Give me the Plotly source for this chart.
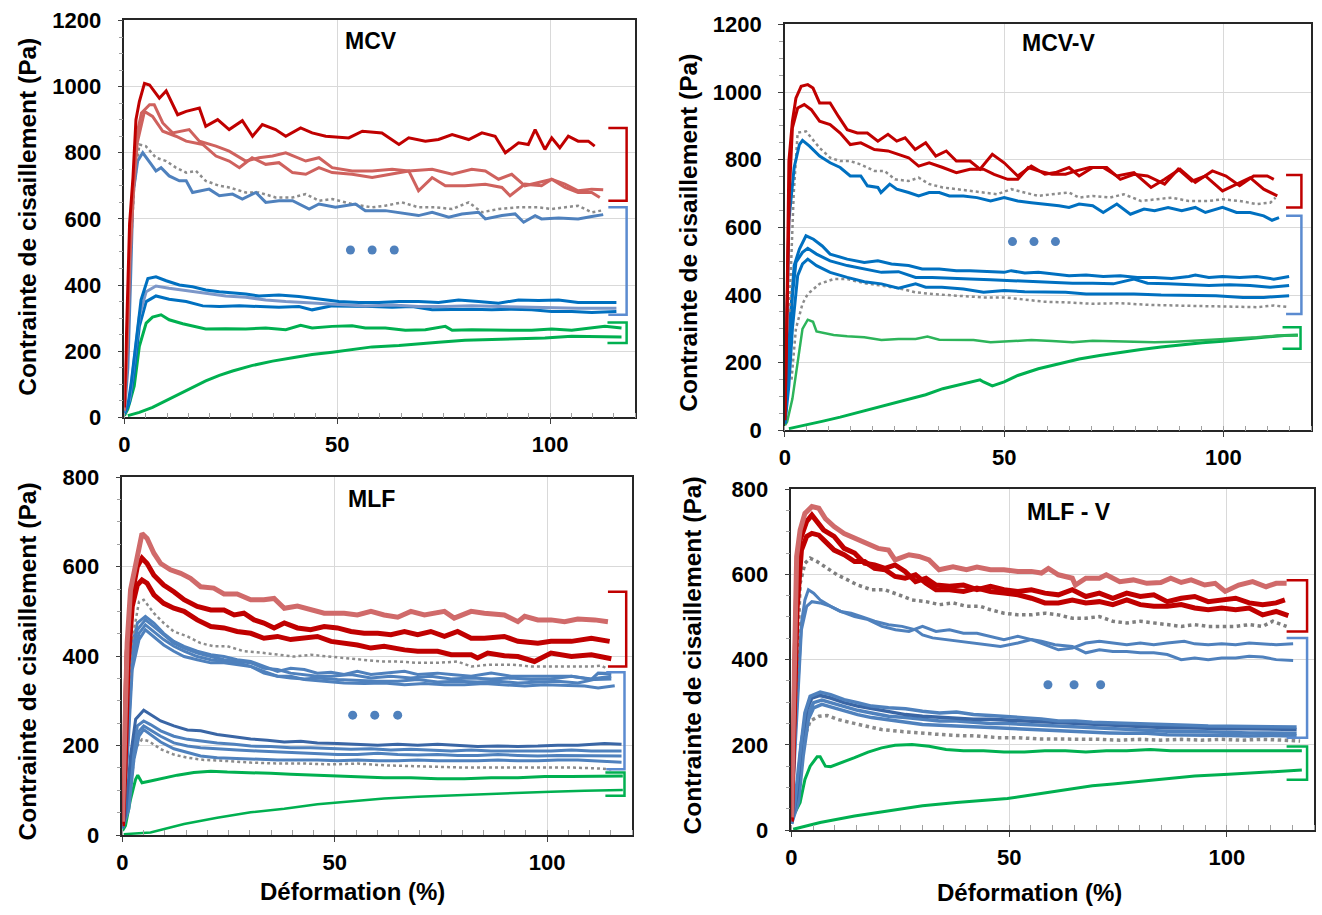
import plotly.graph_objects as go

W, H = 1322, 915

# ---------------- MCV (top-left) ----------------
MCV_RED = [(0,30),(0.5,250),(1.2,585),(2.0,725),(2.7,900),(3.5,955),(4.7,1010),(5.9,1005),(8.2,965),(9.8,987),(12.5,915),(14.5,925),(17.6,935),(19.1,880),(21.9,900),(24.6,870),(27.7,897),(30.1,850),(32.4,885),(35.5,870),(37.9,850),(41.4,875),(44.1,860),(47.3,850),(52.7,845),(55.9,865),(60.5,860),(64.5,825),(66.8,845),(70.7,835),(73.8,840),(77.0,855),(80.9,840),(84.0,860),(87.1,850),(89.5,800),(92.6,830),(94.9,825),(96.5,870),(98.8,810),(100.4,845),(102.3,815),(104.3,850),(106.6,835),(109.0,835),(110.5,820)]
MCV_LR_A = [(0,25),(0.6,220),(1.3,520),(2.2,740),(3.0,860),(4.0,920),(5.9,945),(7.0,945),(9.0,890),(11.3,860),(15.2,870),(17.6,835),(21.5,820),(24.6,805),(28.5,775),(31.6,785),(34.8,790),(37.9,800),(42.6,775),(45.7,785),(48.8,755),(53.5,745),(58.2,745),(62.9,750),(66.8,745),(72.3,750),(77.0,735),(81.6,750),(84.8,745),(87.9,720),(91.0,735),(94.1,700),(97.3,710),(100.4,720),(103.5,705),(106.6,685),(109.8,690),(112.5,688)]
MCV_LR_B = [(0,20),(0.6,200),(1.3,480),(2.2,700),(3.0,830),(4.7,925),(6.6,910),(9.0,865),(12.1,850),(14.5,835),(18.4,825),(21.5,790),(24.6,775),(27.0,755),(30.0,785),(33.2,765),(36.3,770),(39.5,740),(42.6,735),(45.7,755),(48.8,740),(53.5,735),(58.2,725),(62.9,735),(66.8,745),(69.1,685),(72.3,725),(75.4,700),(80.0,700),(84.8,705),(88.7,695),(90.6,670),(94.1,705),(98.0,700),(100.4,720),(103.5,695),(106.6,680),(109.8,680),(111.7,665)]
MCV_GREY = [(0.8,300),(1.5,520),(2.3,700),(3.5,825),(5.0,820),(7.4,785),(9.8,775),(12.1,755),(14.5,740),(16.8,745),(19.1,715),(22.3,700),(24.6,695),(28.5,680),(31.6,680),(35.5,665),(39.5,665),(42.6,675),(45.7,655),(48.8,660),(53.5,645),(58.2,635),(61.3,640),(65.2,650),(69.1,635),(73.0,635),(77.0,630),(80.9,650),(84.0,620),(87.9,630),(92.6,635),(97.3,635),(100.4,630),(104.3,635),(106.6,640),(109.8,620),(112.0,625)]
MCV_BLUE_UP = [(0,15),(0.8,150),(1.4,400),(2.0,675),(3.1,775),(4.3,800),(6.3,765),(7.4,745),(8.6,755),(10.5,730),(12.9,715),(14.5,715),(16.0,680),(18.4,685),(19.9,690),(22.3,670),(25.4,675),(27.7,660),(30.9,680),(33.2,650),(36.3,655),(39.5,655),(43.4,630),(45.7,645),(49.6,635),(54.3,645),(56.6,625),(61.3,625),(66.0,615),(69.1,610),(72.3,620),(76.2,605),(79.3,615),(83.2,620),(84.8,600),(88.7,610),(91.8,615),(93.8,590),(96.5,610),(98.0,600),(102.0,603),(106.6,600),(109.8,607),(112.5,613)]
MCV_B1 = [(0,10),(0.8,35),(1.6,105),(2.7,225),(3.9,355),(5.5,420),(7.4,425),(9.8,413),(12.9,400),(16.0,395),(19.1,385),(22.3,380),(25.4,377),(28.5,373),(31.6,367),(36.3,370),(41.0,365),(45.7,357),(50.4,350),(55.1,347),(59.8,347),(64.5,350),(69.1,350),(73.8,347),(78.5,355),(83.2,350),(87.9,345),(92.6,355),(97.3,353),(102.0,355),(106.6,347),(111.3,347),(115.6,347)]
MCV_B2 = [(0,10),(1.2,55),(2.3,175),(3.5,305),(5.1,380),(7.4,397),(10.5,390),(14.5,383),(19.1,375),(23.8,367),(28.5,363),(33.2,355),(37.9,350),(44.1,345),(50.4,340),(56.6,337),(62.9,340),(69.1,335),(75.4,335),(81.6,337),(87.9,335),(94.1,333),(100.4,330),(106.6,330),(115.6,330)]
MCV_B3 = [(0,10),(1.2,45),(2.3,135),(3.5,275),(5.1,350),(7.4,367),(10.5,357),(14.5,350),(18.4,337),(22.3,335),(27.0,337),(31.6,335),(36.3,333),(41.0,335),(44.1,325),(48.8,337),(53.5,337),(58.2,335),(62.9,333),(67.6,335),(72.3,325),(77.0,327),(81.6,327),(86.3,325),(91.0,327),(95.7,325),(100.4,320),(105.1,320),(109.8,317),(115.6,320)]
MCV_G1 = [(0,5),(0.8,25),(2.3,95),(3.5,215),(5.1,285),(6.6,303),(8.6,310),(10.5,295),(13.7,283),(16.8,275),(19.1,267),(23.8,268),(28.5,267),(33.2,270),(37.9,265),(41.4,278),(44.1,270),(48.8,275),(53.5,277),(56.6,270),(61.3,270),(66.0,263),(70.7,265),(75.4,275),(77.0,263),(81.6,265),(86.3,263),(91.0,263),(95.7,263),(100.4,267),(105.1,263),(109.8,270),(112.9,275),(116.8,270)]
MCV_G2 = [(0.8,5),(3.5,15),(6.6,30),(9.8,50),(12.9,70),(16.0,90),(19.1,110),(22.3,127),(25.4,140),(30.1,157),(34.8,170),(39.5,180),(44.1,190),(48.8,197),(53.5,205),(58.2,213),(64.5,217),(69.1,223),(73.8,227),(80.0,233),(86.3,235),(92.6,237),(98.8,240),(105.1,245),(111.3,243),(116.8,243)]

# ---------------- MCV-V (top-right) ----------------
MCVV_R1 = [(0,40),(0.4,300),(0.9,796),(1.7,914),(2.5,982),(3.7,1017),(5.2,1022),(6.4,1012),(7.9,968),(10.3,968),(12.2,928),(14.2,889),(16.5,879),(18.8,879),(21.2,855),(23.5,875),(25.5,855),(27.4,865),(29.7,830),(32.1,850),(34.4,811),(36.8,826),(39.1,796),(42.2,796),(44.5,772),(47.3,816),(50.0,791),(53.1,752),(56.2,781),(59.3,757),(61.7,762),(64.8,777),(67.1,752),(70.2,777),(73.4,777),(76.5,742),(79.6,757),(82.7,752),(86.6,728),(89.7,772),(92.8,737),(95.9,752),(99.8,708),(103.0,728),(106.1,747),(109.2,713),(112.3,693)]
MCVV_R2 = [(0,30),(0.5,350),(1.0,700),(1.7,894),(2.9,953),(4.4,963),(6.0,948),(7.9,914),(10.3,904),(12.6,879),(14.9,845),(17.3,850),(20.4,830),(23.5,826),(25.9,816),(28.2,806),(30.5,781),(32.9,791),(36.0,777),(39.1,762),(42.2,772),(45.3,772),(47.7,757),(50.8,742),(53.1,742),(55.5,777),(57.8,767),(60.9,757),(64.0,757),(66.4,767),(69.5,777),(72.6,777),(75.7,752),(79.6,762),(83.5,718),(86.6,742),(90.1,772),(93.6,733),(97.5,767),(100.6,752),(103.7,723),(106.9,752),(110.0,752),(111.5,742)]
MCVV_GREY1 = [(1.0,350),(2.0,700),(2.9,880),(4.8,884),(7.9,835),(10.3,806),(12.6,796),(14.9,796),(17.3,786),(20.4,767),(22.7,767),(25.1,742),(28.2,737),(30.5,747),(32.9,728),(36.0,718),(39.1,713),(42.2,708),(45.3,703),(48.4,698),(51.6,713),(54.7,703),(57.8,693),(60.9,698),(64.8,703),(67.1,688),(70.2,693),(74.1,688),(77.3,698),(81.2,678),(84.3,683),(88.2,688),(92.1,678),(96.7,678),(99.8,683),(103.7,678),(107.6,669),(110.7,673),(111.9,688)]
MCVV_BLUE_UP = [(0,30),(0.9,620),(2.1,777),(3.3,845),(4.0,857),(5.6,840),(7.9,811),(10.3,791),(12.6,777),(14.9,752),(17.3,752),(18.8,723),(21.2,718),(21.9,703),(23.9,728),(25.5,713),(28.2,703),(30.5,693),(32.9,703),(35.2,703),(37.5,693),(40.7,693),(43.8,688),(46.9,678),(50.0,688),(53.1,678),(56.2,673),(59.3,669),(62.5,664),(64.8,659),(67.1,669),(70.2,664),(72.6,644),(75.7,669),(78.8,639),(81.9,654),(84.3,649),(87.4,659),(90.5,649),(93.6,659),(95.9,644),(99.8,659),(103.0,644),(106.1,644),(109.2,634),(111.1,621),(112.7,629)]
MCVV_B1 = [(0,20),(0.5,152),(1.3,349),(2.1,487),(3.3,536),(4.8,575),(6.5,565),(8.5,545),(10.3,521),(14.2,506),(18.1,496),(21.2,501),(24.3,492),(28.2,487),(31.3,477),(35.2,477),(39.1,472),(42.2,472),(46.1,469),(50.0,467),(51.6,472),(54.7,465),(57.8,467),(60.9,462),(64.8,457),(68.7,459),(72.6,455),(76.5,457),(80.4,452),(84.3,452),(88.2,449),(92.1,455),(93.6,459),(96.7,452),(99.8,455),(103.7,452),(107.6,455),(111.5,447),(115.0,455)]
MCVV_B2 = [(0,20),(0.9,201),(1.7,398),(2.5,496),(4.0,526),(5.2,538),(7.2,521),(10.3,501),(14.2,487),(18.1,477),(22.0,467),(25.9,469),(29.8,452),(33.6,452),(37.5,449),(42.2,447),(46.9,445),(51.6,442),(56.2,439),(60.9,437),(65.6,435),(70.2,435),(74.9,433),(79.6,447),(82.7,435),(87.4,433),(92.1,430),(96.7,428),(101.4,430),(106.1,428),(110.7,423),(115.0,428)]
MCVV_B3 = [(0,20),(0.9,133),(1.7,300),(2.9,457),(4.0,492),(5.2,506),(7.2,487),(10.3,467),(14.2,452),(18.1,439),(22.0,433),(25.9,420),(29.8,433),(32.1,423),(35.8,423),(40.7,418),(45.3,408),(50.0,413),(54.7,410),(59.3,408),(64.0,408),(68.7,403),(73.4,403),(79.6,403),(85.8,400),(92.1,398),(98.3,398),(104.5,393),(109.2,393),(115.0,398)]
MCVV_GREY2 = [(1.5,150),(2.5,300),(4.0,374),(5.2,403),(7.9,433),(11.1,447),(14.2,447),(18.1,435),(22.0,428),(25.9,420),(29.8,408),(33.6,403),(39.1,398),(45.3,393),(50.0,393),(54.7,386),(59.3,380),(64.8,378),(70.2,374),(76.5,376),(82.7,371),(88.9,369),(95.2,367),(101.4,364),(107.6,364),(111.5,369),(115.0,364)]
MCVV_G1 = [(0,15),(0.5,25),(1.7,93),(2.9,201),(4.0,300),(5.2,327),(6.4,321),(7.2,292),(8.7,288),(11.1,282),(14.2,278),(18.1,275),(22.0,267),(25.9,270),(29.8,270),(32.5,277),(35.2,268),(39.1,267),(43.0,267),(46.9,260),(51.6,264),(56.2,267),(60.9,264),(65.6,260),(70.2,265),(74.9,263),(79.6,260),(84.3,260),(88.9,262),(93.6,265),(98.3,267),(103.0,272),(107.6,275),(112.3,280),(117.0,280)]
MCVV_G2 = [(0.9,5),(4.8,15),(8.7,27),(12.6,39),(16.5,52),(20.4,64),(24.3,79),(28.2,91),(32.1,105),(36.0,123),(39.9,135),(44.5,149),(45.3,143),(47.3,131),(50.0,143),(53.1,162),(57.8,182),(62.5,197),(67.1,211),(71.8,221),(76.5,231),(81.2,239),(85.8,246),(90.5,253),(95.2,259),(99.8,263),(104.5,270),(109.2,275),(113.9,280),(117.0,282)]

# ---------------- MLF (bottom-left) ----------------
MLF_LR = [(0,30),(0.5,200),(1.1,429),(1.9,548),(3.1,607),(3.9,652),(4.6,674),(5.8,663),(7.4,630),(9.0,607),(11.3,593),(13.7,585),(16.0,574),(18.4,555),(21.5,552),(23.9,539),(27.0,539),(30.2,526),(33.3,526),(35.7,529),(38.1,507),(41.2,512),(44.3,505),(47.5,496),(52.2,496),(55.3,492),(58.5,500),(61.6,492),(64.8,487),(67.9,500),(71.1,492),(75.8,500),(78.1,485),(82.1,500),(85.2,496),(89.9,492),(93.1,477),(94.7,489),(97.8,481),(100.9,481),(104.1,477),(107.2,483),(111.2,481),(114.3,477)]
MLF_R1 = [(0,25),(0.5,180),(1.1,407),(2.3,541),(3.5,600),(4.6,619),(5.8,607),(7.4,581),(9.7,559),(12.1,544),(14.5,526),(17.6,511),(20.8,503),(23.9,503),(26.3,492),(28.6,496),(31.0,481),(33.3,474),(35.7,463),(38.1,474),(41.2,463),(44.3,459),(47.5,466),(50.6,463),(53.8,455),(56.9,451),(60.1,451),(63.2,448),(66.4,455),(69.5,448),(72.6,455),(75.8,444),(78.9,455),(82.1,440),(85.2,440),(89.9,444),(93.1,433),(97.8,429),(100.9,433),(105.7,433),(110.4,440),(114.7,433)]
MLF_R2 = [(0,20),(0.6,150),(1.3,380),(2.3,511),(3.5,559),(4.6,570),(5.8,563),(7.4,537),(9.7,518),(12.1,507),(14.5,500),(17.6,481),(20.8,466),(23.9,463),(27.0,455),(30.2,451),(33.3,440),(36.5,444),(39.6,437),(42.8,440),(45.9,444),(49.1,433),(52.2,429),(55.3,425),(58.5,418),(61.6,422),(66.4,414),(69.5,411),(74.2,411),(77.4,403),(82.1,403),(83.6,396),(86.0,407),(89.9,401),(93.1,399),(97.0,388),(100.9,407),(105.7,399),(110.4,403),(115.1,394)]
MLF_GREY1 = [(1.0,250),(2.0,420),(3.9,522),(5.0,526),(7.4,496),(9.7,474),(12.1,455),(15.3,444),(18.4,429),(21.5,422),(24.7,422),(28.6,411),(32.5,408),(36.5,403),(40.4,399),(44.3,403),(48.3,399),(52.2,396),(56.9,392),(60.8,388),(64.8,388),(69.5,385),(74.2,385),(78.9,388),(82.1,377),(86.8,381),(91.5,381),(96.2,377),(100.9,377),(105.7,377),(110.4,377),(112.7,379),(114.3,371)]
MLF_B1 = [(0,20),(1.0,230),(1.9,407),(3.5,474),(5.4,489),(7.4,474),(9.7,451),(12.1,433),(14.5,422),(17.6,411),(20.8,403),(23.9,399),(27.0,392),(30.2,388),(33.3,377),(36.5,366),(39.6,373),(42.8,370),(45.9,362),(49.1,364),(52.2,359),(55.3,366),(58.5,359),(61.6,362),(66.4,366),(69.5,359),(74.2,362),(77.4,359),(82.1,355),(86.8,362),(91.5,355),(96.2,355),(100.9,355),(105.7,355),(110.4,348),(112.0,362),(115.1,361)]
MLF_B2 = [(0,20),(1.0,210),(1.9,392),(3.5,459),(5.4,481),(7.4,466),(9.7,448),(12.1,429),(14.5,418),(17.6,407),(20.8,399),(23.9,392),(27.0,388),(30.2,385),(33.3,373),(36.5,370),(39.6,362),(42.8,359),(45.9,355),(49.1,355),(53.8,359),(58.5,351),(63.2,355),(67.9,351),(72.6,355),(77.4,349),(82.1,351),(86.8,349),(91.5,351),(96.2,348),(100.9,349),(105.7,355),(110.4,349),(115.1,355)]
MLF_B3 = [(0,20),(1.2,200),(2.3,392),(3.9,451),(5.4,470),(7.4,455),(9.7,437),(12.1,422),(14.5,411),(17.6,399),(20.8,392),(23.9,388),(27.0,385),(30.2,377),(33.3,362),(36.5,355),(39.6,351),(42.8,349),(45.9,351),(50.6,348),(55.3,346),(60.1,344),(64.8,344),(69.5,348),(74.2,342),(78.9,344),(83.6,342),(88.4,344),(93.1,340),(97.8,342),(102.5,344),(107.2,340),(111.2,348),(115.1,349)]
MLF_B4 = [(0,20),(1.2,180),(2.3,370),(3.9,437),(5.4,459),(7.4,444),(9.7,425),(12.1,411),(14.5,399),(17.6,392),(20.8,385),(23.9,385),(27.0,381),(30.2,377),(33.3,366),(36.5,355),(39.6,355),(42.8,348),(47.5,344),(52.2,340),(56.9,339),(61.6,340),(66.4,336),(71.1,339),(75.8,336),(80.5,336),(85.2,339),(89.9,336),(94.7,333),(99.4,336),(104.1,334),(108.8,333),(112.0,329),(115.9,334)]
MLF_D1 = [(0,15),(0.7,43),(1.9,177),(3.1,259),(5.0,279),(6.6,270),(9.0,255),(12.1,244),(15.3,235),(18.4,233),(22.3,225),(26.3,220),(30.2,215),(34.1,212),(38.1,208),(42.0,210),(45.9,206),(50.6,205),(55.3,203),(60.1,201),(64.8,203),(69.5,201),(74.2,203),(78.9,201),(83.6,198),(88.4,199),(93.1,198),(97.8,199),(102.5,201),(107.2,201),(113.5,205),(117.5,203)]
MLF_D2 = [(0,15),(1.1,58),(2.3,177),(3.5,244),(5.0,255),(6.6,247),(9.0,233),(12.1,221),(15.3,214),(18.4,210),(22.3,206),(26.3,203),(30.2,199),(34.9,198),(39.6,195),(44.3,195),(49.1,193),(53.8,192),(58.5,193),(63.2,190),(67.9,192),(72.6,190),(77.4,188),(82.1,190),(86.8,188),(91.5,188),(96.2,188),(100.9,188),(105.7,190),(110.4,188),(117.5,188)]
MLF_D3 = [(0,15),(1.5,80),(2.7,192),(3.9,232),(5.0,244),(6.6,235),(9.0,221),(12.1,206),(15.3,199),(18.4,195),(22.3,192),(27.0,190),(31.8,188),(36.5,186),(41.2,184),(45.9,183),(50.6,180),(55.3,180),(60.1,183),(64.8,180),(69.5,179),(74.2,180),(78.9,178),(83.6,178),(88.4,180),(93.1,178),(97.8,177),(102.5,178),(107.2,178),(111.9,177),(117.5,177)]
MLF_D4 = [(0,15),(1.5,58),(2.7,169),(3.9,221),(5.0,236),(6.6,225),(9.0,208),(12.1,193),(15.3,184),(18.4,177),(22.3,173),(27.0,171),(31.8,169),(36.5,168),(41.2,168),(45.9,168),(50.6,166),(55.3,168),(60.1,166),(64.8,166),(69.5,168),(74.2,166),(78.9,166),(83.6,166),(88.4,168),(93.1,166),(97.8,166),(102.5,168),(107.2,168),(111.9,166),(117.5,163)]
MLF_GREY2 = [(1.5,80),(3.1,195),(4.6,214),(6.2,210),(9.0,192),(12.1,180),(15.3,173),(19.2,168),(23.9,166),(30.2,162),(36.5,160),(42.8,160),(49.1,158),(55.3,160),(61.6,156),(67.9,154),(74.2,153),(80.5,151),(86.8,151),(93.1,151),(99.4,151),(105.7,151),(111.9,149),(115.1,147)]
MLF_G1 = [(0,10),(0.7,21),(1.9,80),(3.1,125),(3.6,134),(4.6,117),(6.6,121),(9.7,128),(12.9,134),(16.8,140),(20.8,143),(24.7,141),(30.2,140),(34.9,138),(39.6,136),(44.3,134),(49.8,132),(55.3,131),(61.6,128),(67.9,128),(74.2,126),(80.5,126),(86.8,128),(93.1,128),(99.4,131),(105.7,131),(111.9,131),(117.8,132)]
MLF_G2 = [(0.3,2),(6.6,6),(14.5,25),(22.3,39),(30.2,51),(38.1,59),(45.9,69),(53.8,76),(61.6,82),(69.5,86),(77.4,89),(85.2,91),(93.1,94),(100.9,97),(108.8,99),(117.8,101)]

# ---------------- MLF - V (bottom-right) ----------------
MLFV_LR = [(0,30),(0.5,300),(1.2,642),(2.0,704),(3.1,743),(4.7,759),(6.3,755),(7.8,731),(9.8,712),(12.1,696),(14.5,685),(16.8,673),(19.9,661),(22.3,657),(23.8,634),(27.0,646),(29.3,642),(31.6,634),(33.9,611),(37.1,618),(40.2,611),(42.6,617),(45.7,611),(48.8,611),(52.0,607),(55.1,607),(57.4,603),(59.0,614),(61.3,599),(64.5,591),(65.2,575),(67.6,591),(70.7,591),(72.3,599),(75.4,583),(78.5,587),(81.6,579),(84.8,581),(87.1,591),(89.5,581),(91.8,587),(94.9,575),(97.3,579),(99.6,560),(102.7,575),(105.9,583),(109.0,571),(111.3,579),(113.7,579)]
MLFV_R1 = [(0,25),(0.6,280),(1.2,560),(2.0,681),(3.5,724),(4.7,739),(5.9,724),(7.4,704),(9.8,689),(12.1,661),(14.5,650),(16.8,626),(19.1,622),(21.5,614),(23.8,622),(26.1,607),(28.5,583),(30.9,591),(33.2,575),(36.3,572),(39.5,575),(42.6,564),(45.7,572),(48.8,564),(52.0,560),(55.1,564),(58.2,556),(61.3,552),(64.5,564),(67.6,548),(70.7,556),(73.8,544),(77.0,556),(80.1,548),(83.2,552),(86.3,536),(89.5,544),(92.6,548),(95.7,536),(98.8,540),(102.0,544),(105.1,533),(108.2,529),(111.3,533),(113.3,540)]
MLFV_R2 = [(0,20),(0.6,250),(1.3,520),(2.3,657),(3.5,689),(4.7,696),(6.3,692),(7.4,681),(9.8,657),(12.1,646),(14.5,630),(16.8,630),(19.1,614),(21.5,611),(23.8,595),(26.1,591),(28.5,599),(30.9,579),(33.2,564),(36.3,564),(39.5,560),(42.6,568),(45.7,560),(48.8,556),(52.0,552),(55.1,544),(58.2,533),(61.3,533),(64.5,540),(67.6,533),(70.7,536),(73.8,529),(77.0,540),(80.1,529),(83.2,525),(86.3,525),(89.5,529),(92.6,521),(95.7,517),(98.8,521),(102.0,517),(105.1,521),(108.2,505),(111.3,513),(114.1,503)]
MLFV_GREY1 = [(0.8,250),(2.0,579),(3.1,626),(4.3,638),(5.9,630),(8.2,614),(10.5,599),(12.9,587),(15.2,575),(18.4,564),(21.5,564),(24.6,552),(27.7,540),(30.9,536),(34.0,529),(37.1,533),(40.2,525),(43.4,525),(45.7,517),(48.8,509),(52.0,505),(55.1,505),(58.2,509),(61.3,505),(64.5,497),(67.6,497),(70.7,501),(73.8,490),(77.0,486),(80.1,490),(83.2,486),(86.3,482),(89.5,478),(92.6,482),(95.7,478),(98.8,478),(102.0,478),(105.1,482),(108.2,478),(110.5,490),(113.7,478)]
MLFV_B1 = [(0,25),(1.0,250),(2.3,486),(3.1,540),(3.9,564),(5.1,556),(6.6,540),(9.0,525),(11.3,513),(13.7,509),(16.1,501),(19.1,490),(22.3,482),(25.4,478),(28.5,470),(30.1,458),(32.4,451),(35.5,447),(38.6,443),(41.8,439),(44.9,435),(48.0,431),(52.0,439),(55.1,447),(57.4,443),(60.5,435),(64.5,431),(67.6,416),(70.7,423),(73.8,419),(77.0,419),(80.1,416),(83.2,416),(86.3,412),(89.5,400),(92.6,404),(95.7,400),(98.8,404),(102.0,404),(105.1,408),(108.2,406),(111.3,400),(115.2,398)]
MLFV_B2 = [(0,25),(1.1,230),(2.3,470),(3.5,525),(4.7,536),(6.6,533),(9.0,525),(11.3,513),(14.5,501),(17.6,494),(20.8,478),(23.9,470),(27.0,466),(30.1,478),(33.2,466),(36.3,470),(39.5,462),(42.6,462),(45.7,455),(48.8,447),(52.0,455),(55.1,447),(58.2,435),(61.3,423),(64.5,427),(67.6,439),(70.7,443),(73.8,439),(77.0,435),(80.1,439),(83.2,435),(86.3,439),(90.2,443),(92.6,437),(95.7,435),(98.8,437),(102.0,435),(105.1,439),(108.2,437),(111.3,435),(115.2,437)]
MLFV_L1 = [(0,15),(0.8,65),(2.0,182),(3.1,275),(4.3,314),(6.6,324),(9.0,318),(12.1,306),(15.2,299),(18.4,291),(22.3,287),(26.2,285),(30.1,279),(34.0,275),(37.9,277),(41.8,271),(45.7,269),(49.6,267),(53.5,264),(57.4,261),(61.3,256),(65.2,256),(69.1,253),(73.0,252),(77.0,250),(81.6,250),(86.3,248),(91.0,246),(95.7,244),(100.4,244),(105.1,242),(109.8,244),(116.0,242)]
MLFV_L2 = [(0,15),(1.2,80),(2.3,205),(3.5,283),(4.7,310),(6.6,316),(9.0,310),(12.1,299),(15.2,291),(18.4,285),(22.3,279),(26.2,271),(30.1,267),(34.0,264),(37.9,261),(41.8,260),(45.7,260),(49.6,258),(53.5,256),(57.4,253),(61.3,253),(65.2,250),(69.1,248),(73.0,246),(77.0,244),(81.6,242),(86.3,240),(91.0,240),(95.7,238),(100.4,238),(105.1,238),(109.8,238),(116.0,236)]
MLFV_L3 = [(0,15),(1.6,80),(2.7,197),(3.9,275),(5.1,299),(7.0,305),(9.0,299),(12.1,289),(15.2,281),(18.4,275),(22.3,267),(26.2,264),(30.1,260),(34.0,256),(37.9,256),(41.8,253),(45.7,250),(49.6,250),(53.5,248),(57.4,246),(61.3,244),(65.2,242),(69.1,240),(73.0,238),(77.0,236),(81.6,235),(86.3,232),(91.0,232),(95.7,230),(100.4,230),(105.1,228),(109.8,228),(116.0,227)]
MLFV_L4 = [(0,15),(1.6,65),(2.7,174),(3.9,260),(5.1,287),(7.0,295),(9.0,289),(12.1,279),(15.2,271),(18.4,264),(22.3,258),(26.2,253),(30.1,248),(34.0,246),(37.9,244),(41.8,242),(45.7,240),(49.6,238),(53.5,236),(57.4,235),(61.3,232),(65.2,232),(69.1,230),(73.0,228),(77.0,227),(81.6,227),(86.3,224),(91.0,224),(95.7,222),(100.4,222),(105.1,221),(109.8,222),(116.0,221)]
MLFV_GREY2 = [(1.5,100),(3.1,221),(4.3,256),(6.3,267),(8.2,269),(10.5,260),(13.7,252),(16.8,244),(20.7,236),(24.6,232),(28.5,228),(33.2,225),(37.9,222),(42.6,221),(47.3,217),(52.0,217),(56.6,214),(61.3,214),(66.0,213),(70.7,213),(75.4,211),(80.1,213),(84.8,211),(89.5,213),(94.1,211),(98.8,213),(103.5,211),(108.2,213),(112.9,211),(116.8,209)]
MLFV_G1 = [(0,15),(0.4,33),(2.0,65),(3.1,119),(4.3,150),(5.9,172),(6.6,172),(7.8,150),(9.0,149),(11.3,157),(14.5,170),(17.6,183),(20.7,193),(23.8,199),(27.7,201),(31.6,197),(35.5,189),(39.5,186),(44.1,186),(48.8,183),(53.5,183),(58.2,186),(62.9,186),(67.6,183),(72.3,186),(77.0,186),(82.4,189),(87.1,186),(92.6,186),(97.3,186),(102.0,186),(106.6,186),(111.3,186),(117.2,186)]
MLFV_G2 = [(0.4,2),(6.6,18),(14.5,33),(22.3,45),(30.1,57),(37.9,65),(45.7,72),(49.6,74),(53.5,80),(61.3,92),(69.1,104),(73.8,108),(77.0,111),(84.8,119),(92.6,127),(100.4,131),(108.2,136),(112.9,139),(117.2,141)]

# ---------------- decorations ----------------
TITLES = ["MCV", "MCV-V", "MLF", "MLF - V"]
Y_RANGES = [1200, 1200, 800, 800]
DOTS_X = [[53.1, 58.2, 63.4], [51.9, 56.8, 61.7], [54.2, 59.4, 64.8], [58.9, 64.9, 71.0]]
DOTS_Y = [506, 558, 268, 341]
BRACKETS = [
    [(113.7, 118.0, 875, 655), (113.7, 118.0, 635, 310), (113.5, 118.0, 287, 225)],
    [(114.3, 117.8, 755, 659), (114.3, 117.8, 634, 344), (113.5, 117.6, 305, 241)],
    [(114.3, 118.6, 544, 377), (113.9, 118.2, 364, 147), (113.7, 118.2, 140, 88)],
    [(113.7, 118.4, 586, 466), (113.7, 118.4, 451, 217), (113.7, 118.4, 196, 118)],
]

RED, LRED, GREY = "#C00000", "#CF625E", "#8C8C8C"
BLUE, MBLUE, DBLUE, GBLUE = "#0070C0", "#4F81BD", "#3A66A5", "#7C97C9"
GREEN = "#00B050"
BRACKET_COLORS = [RED, "#5B8BD0", GREEN]

# target plot-area boxes in pixels: left, top, right, bottom
BOXES = [(119, 19, 632, 417), (782.5, 23, 1311, 430), (117, 477, 629, 836), (789, 489, 1314, 831)]

SERIES = [
    [(MCV_G2, GREEN, 3, None), (MCV_G1, GREEN, 3, None), (MCV_B3, BLUE, 3, None),
     (MCV_B2, GBLUE, 3, None), (MCV_B1, BLUE, 3, None), (MCV_GREY, GREY, 2.5, "dot"),
     (MCV_BLUE_UP, MBLUE, 3, None), (MCV_LR_B, LRED, 3, None), (MCV_LR_A, LRED, 3, None),
     (MCV_RED, RED, 3, None)],
    [(MCVV_G2, GREEN, 3, None), (MCVV_G1, "#2DB45A", 2.5, None), (MCVV_GREY2, GREY, 2.5, "dot"),
     (MCVV_B3, BLUE, 3, None), (MCVV_B2, BLUE, 3, None), (MCVV_B1, BLUE, 3, None),
     (MCVV_GREY1, GREY, 2.5, "dot"), (MCVV_BLUE_UP, BLUE, 3, None), (MCVV_R2, RED, 3, None),
     (MCVV_R1, RED, 3, None)],
    [(MLF_G2, GREEN, 2.5, None), (MLF_G1, GREEN, 3, None), (MLF_GREY2, GREY, 2.5, "dot"),
     (MLF_D4, MBLUE, 3, None), (MLF_D3, MBLUE, 3, None), (MLF_D2, MBLUE, 3, None),
     (MLF_D1, DBLUE, 3, None), (MLF_B4, MBLUE, 3, None), (MLF_B3, MBLUE, 3, None),
     (MLF_B2, MBLUE, 3, None), (MLF_B1, MBLUE, 3, None), (MLF_GREY1, GREY, 2.5, "dot"),
     (MLF_R2, RED, 5, None), (MLF_R1, RED, 5, None), (MLF_LR, "#D06A6A", 5, None)],
    [(MLFV_G2, GREEN, 3, None), (MLFV_G1, GREEN, 3, None), (MLFV_GREY2, "#8A8A8A", 3.5, "dot"),
     (MLFV_L4, MBLUE, 3.5, None), (MLFV_L3, MBLUE, 3.5, None), (MLFV_L2, DBLUE, 3.5, None),
     (MLFV_L1, MBLUE, 3.5, None), (MLFV_B2, MBLUE, 3, None), (MLFV_B1, MBLUE, 3, None),
     (MLFV_GREY1, "#7F7F7F", 3.5, "dot"), (MLFV_R2, RED, 5, None), (MLFV_R1, RED, 5, None),
     (MLFV_LR, "#D06A6A", 5, None)],
]

FONT = "Liberation Sans, Arial, sans-serif"

# the photographed page is compressed vertically; compensate
VS, VO = 0.9755, 10.5


def px(x):
    return x / W


def py(y):
    return 1 - ((y - VO) / VS) / H


fig = go.Figure()
annotations = []
shapes = []
layout = dict(width=W, height=H, margin=dict(l=0, r=0, t=0, b=0), autosize=False,
              paper_bgcolor="white", plot_bgcolor="white", showlegend=False)

for i in range(4):
    sfx = "" if i == 0 else str(i + 1)
    xa, ya = "x" + sfx, "y" + sfx
    l, t, r, b = BOXES[i]
    ymax = Y_RANGES[i]
    for pts, color, width, dash in SERIES[i]:
        xs = [p[0] for p in pts]
        ys = [p[1] for p in pts]
        fig.add_trace(go.Scatter(x=xs, y=ys, mode="lines", xaxis=xa, yaxis=ya,
                                 line=dict(color=color, width=width, dash=dash),
                                 hoverinfo="skip"))
    fig.add_trace(go.Scatter(x=DOTS_X[i], y=[DOTS_Y[i]] * 3, mode="markers", xaxis=xa, yaxis=ya,
                             marker=dict(color="#4F81BD", size=9), hoverinfo="skip"))
    layout["xaxis" + sfx] = dict(
        domain=[px(l), px(r)], anchor=ya, range=[0, 120], dtick=50, tick0=0,
        showgrid=True, gridcolor="#D9D9D9", gridwidth=1, zeroline=False,
        showline=True, linecolor="#262626", linewidth=1.5, mirror=True,
        ticks="outside", ticklen=5, tickcolor="#404040",
        minor=dict(dtick=5, ticks="inside", ticklen=5, tickcolor="#A0A0A0", showgrid=False),
        tickfont=dict(family=FONT, size=22, color="black", weight="bold"),
        ticklabelstandoff=2)
    layout["yaxis" + sfx] = dict(
        domain=[py(b), py(t)], anchor=xa, range=[0, ymax], dtick=200, tick0=0,
        showgrid=True, gridcolor="#D9D9D9", gridwidth=1, zeroline=False,
        showline=True, linecolor="#262626", linewidth=1.5, mirror=True,
        ticks="outside", ticklen=5, tickcolor="#404040",
        minor=dict(dtick=50, ticks="outside", ticklen=4, tickcolor="#A0A0A0", showgrid=False),
        tickfont=dict(family=FONT, size=22, color="black", weight="bold"),
        ticklabelstandoff=12)
    for (xl, xr, yt, yb), col in zip(BRACKETS[i], BRACKET_COLORS):
        shapes.append(dict(type="path", xref=xa, yref=ya,
                           path=f"M {xl},{yt} L {xr},{yt} L {xr},{yb} L {xl},{yb}",
                           line=dict(color=col, width=2.5)))

# panel titles
TITLE_POS = [(367, 40), (1058, 42), (367, 499), (1068, 512)]
for txt, (x, y) in zip(TITLES, TITLE_POS):
    annotations.append(dict(text=txt, x=px(x), y=py(y), xref="paper", yref="paper",
                            xanchor="center", yanchor="middle", showarrow=False,
                            font=dict(family=FONT, size=23, color="black", weight="bold")))

# axis titles
YT_POS = [(22, 216), (686, 232), (22, 662), (690, 656)]
for (x, y) in YT_POS:
    annotations.append(dict(text="Contrainte de cisaillement (Pa)", x=px(x), y=py(y),
                            xref="paper", yref="paper", xanchor="center", yanchor="middle",
                            textangle=-90, showarrow=False,
                            font=dict(family=FONT, size=24.5, color="black", weight="bold")))
XT_POS = [(348, 893), (1028, 894)]
for (x, y) in XT_POS:
    annotations.append(dict(text="Déformation (%)", x=px(x), y=py(y), xref="paper", yref="paper",
                            xanchor="center", yanchor="middle", showarrow=False,
                            font=dict(family=FONT, size=24, color="black", weight="bold")))

layout["annotations"] = annotations
layout["shapes"] = shapes
fig.update_layout(**layout)

fig.write_html("out.html", config={"displayModeBar": False},
               post_script="document.body.style.margin='0';document.body.style.overflow='hidden';")
